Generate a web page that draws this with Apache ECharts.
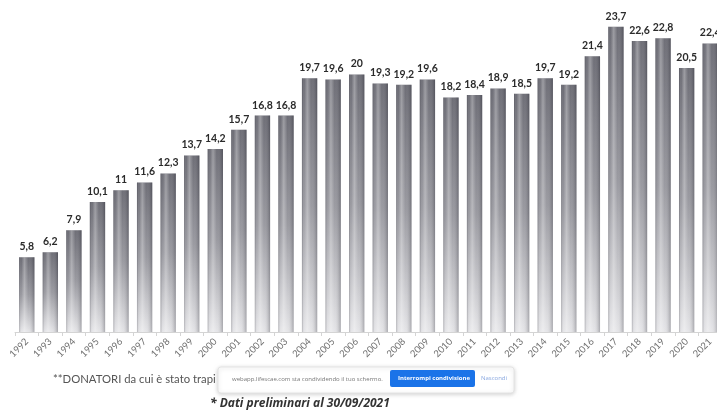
<!DOCTYPE html>
<html><head><meta charset="utf-8">
<script src="https://cdn.jsdelivr.net/npm/echarts@6/dist/echarts.min.js"></script>
<style>html,body{margin:0;padding:0;overflow:hidden;background:#fff;width:717px;height:412px}#c{width:722px;height:412px}</style>
</head><body><div id="c"></div>
<script>
const years = ['1992','1993','1994','1995','1996','1997','1998','1999','2000','2001','2002','2003','2004','2005','2006','2007','2008','2009','2010','2011','2012','2013','2014','2015','2016','2017','2018','2019','2020','2021'];
const donors = [5.8,6.2,7.9,10.1,11,11.6,12.3,13.7,14.2,15.7,16.8,16.8,19.7,19.6,20,19.3,19.2,19.6,18.2,18.4,18.9,18.5,19.7,19.2,21.4,23.7,22.6,22.8,20.5,22.4];
const footnote = '**DONATORI da cui è stato trapi';
const note2 = '* Dati preliminari al 30/09/2021';
const popupText = 'webapp.lifescae.com sta condividendo il tuo schermo.';
const popupButton = 'Interrompi condivisione';
const popupLink = 'Nascondi';

const chart = echarts.init(document.getElementById('c'), null, {renderer:'canvas'});
const G = echarts.graphic;
chart.setOption({
  animation:false,
  grid:{left:15,right:0,top:10,bottom:80},
  xAxis:{type:'category',data:years,
    axisLine:{lineStyle:{color:'#d4d4d4',width:1}},
    axisTick:{show:true,lineStyle:{color:'#d4d4d4'},length:4},
    axisLabel:{rotate:45,color:'#707070',fontSize:9.5,fontFamily:'Lato',margin:8}},
  yAxis:{type:'value',min:0,max:25,show:false,splitLine:{show:false}},
  series:[
    {type:'bar',data:donors,barWidth:'65%',
     itemStyle:{color:new G.LinearGradient(0,0,0,1,[
        {offset:0,color:'#66666f'},{offset:0.5,color:'#95959c'},{offset:1,color:'#e4e4e7'}])},
     label:{show:true,position:'top',distance:5,color:'#2b2b2b',fontSize:10.5,fontWeight:'bold',fontFamily:'Lato',
       formatter:p=>String(p.value).replace('.',',')}},
    {type:'bar',data:donors,barWidth:'65%',barGap:'-100%',silent:true,
     itemStyle:{color:new G.LinearGradient(0,0,1,0,[
        {offset:0,color:'rgba(40,40,50,0.30)'},{offset:0.15,color:'rgba(255,255,255,0.05)'},
        {offset:0.35,color:'rgba(255,255,255,0.35)'},{offset:0.6,color:'rgba(255,255,255,0.05)'},
        {offset:1,color:'rgba(30,30,40,0.30)'}])}}
  ],
  graphic:[
    {type:'text',left:53,top:374,style:{text:footnote,fill:'#555',font:'11.3px Lato'}},
    {type:'rect',shape:{x:218,y:367,width:296,height:26,r:3},
     style:{fill:'#ffffff',stroke:'#e4e4e4',lineWidth:1,shadowBlur:4,shadowColor:'rgba(0,0,0,0.18)',shadowOffsetY:1},z:10},
    {type:'text',left:232,top:376,z:11,style:{text:popupText,fill:'#777',font:'6px "Open Sans"'}},
    {type:'rect',shape:{x:390,y:370,width:85,height:17,r:2},style:{fill:'#1a73e8'},z:11},
    {type:'text',left:398,top:375,z:12,style:{text:popupButton,fill:'#fff',font:'bold 6px "Open Sans"'}},
    {type:'text',left:481,top:375,z:11,style:{text:popupLink,fill:'#8aa8e0',font:'6px "Open Sans"'}},
    {type:'text',left:210,top:398,style:{text:note2,fill:'#333',font:'italic bold 12px "Open Sans"'}}
  ]
});
</script></body></html>
